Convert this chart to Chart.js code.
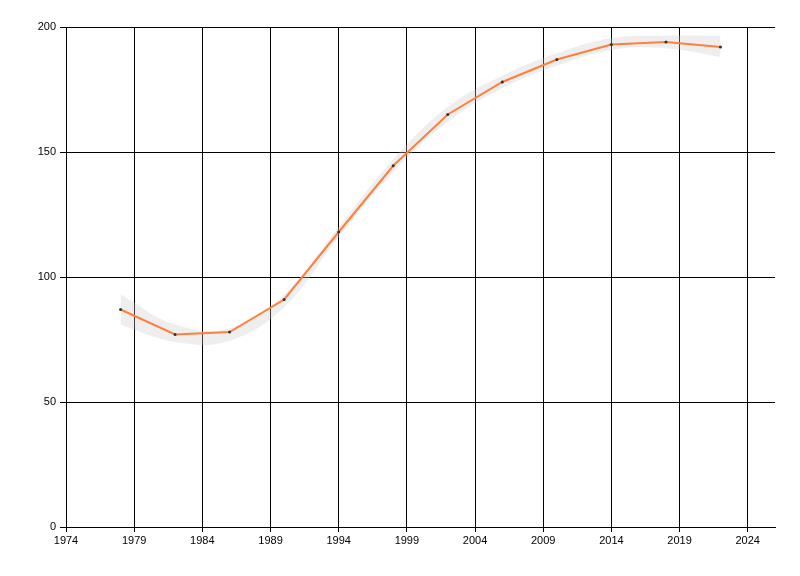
<!DOCTYPE html>
<html>
<head>
<meta charset="utf-8">
<script src="https://cdn.jsdelivr.net/npm/chart.js@4/dist/chart.umd.min.js"></script>
<style>
  html, body { margin: 0; padding: 0; background: #fff; }
  #wrap { width: 800px; height: 576px; }
</style>
</head>
<body>
<div id="wrap"><canvas id="chart" width="800" height="576"></canvas></div>
<script>
let years = [1978, 1982, 1986, 1990, 1994, 1998, 2002, 2006, 2010, 2014, 2018, 2022];
let values = [87, 77, 78, 91, 118, 144.5, 165, 178, 187, 193, 194, 192];
let bandUpper = [93, 81, 79.5, 93, 120, 147, 168, 180.5, 189.5, 195.5, 196.5, 196.5];
let bandLower = [81, 74, 74.5, 88, 116, 142, 162, 175.5, 184.5, 190.8, 191.5, 188];
let xTicks = [1974, 1979, 1984, 1989, 1994, 1999, 2004, 2009, 2014, 2019, 2024];
let yTicks = [0, 50, 100, 150, 200];

const toXY = (arr) => years.map((y, i) => ({ x: y, y: arr[i] }));

Chart.defaults.font.family = '"Liberation Sans", Arial, sans-serif';
Chart.defaults.font.size = 11;
Chart.defaults.color = '#000';

const ctx = document.getElementById('chart').getContext('2d');
new Chart(ctx, {
    type: 'line',
    data: {
        datasets: [
            {
                label: 'value',
                data: toXY(values),
                borderColor: 'rgb(255, 127, 60)',
                borderWidth: 2,
                pointRadius: 1.5,
                pointBackgroundColor: '#333',
                pointBorderWidth: 0,
                tension: 0,
                fill: false,
                order: 0
            },
            {
                label: 'upper',
                data: toXY(bandUpper),
                borderWidth: 0,
                pointRadius: 0,
                tension: 0.4,
                fill: '+1',
                backgroundColor: 'rgba(200, 200, 200, 0.3)',
                order: 1
            },
            {
                label: 'lower',
                data: toXY(bandLower),
                borderWidth: 0,
                pointRadius: 0,
                tension: 0.4,
                fill: false,
                order: 2
            }
        ]
    },
    options: {
        responsive: false,
        animation: false,
        layout: { padding: { top: 27, right: 25, left: 0, bottom: 0 } },
        plugins: {
            legend: { display: false },
            tooltip: { enabled: false }
        },
        scales: {
            x: {
                type: 'linear',
                min: 1974,
                max: 2026,
                afterBuildTicks: (scale) => { scale.ticks = xTicks.map(v => ({ value: v })); },
                afterFit: (scale) => { scale.height = 49; },
                ticks: {
                    padding: 2,
                    maxRotation: 0,
                    autoSkip: false,
                    callback: (v) => String(v)
                },
                grid: { color: '#000', lineWidth: 1, tickLength: 5, drawTicks: true },
                border: { color: '#000', width: 1 }
            },
            y: {
                min: 0,
                max: 200,
                afterBuildTicks: (scale) => { scale.ticks = yTicks.map(v => ({ value: v })); },
                afterFit: (scale) => { scale.width = 66; },
                ticks: { padding: 4 },
                grid: { color: '#000', lineWidth: 1, tickLength: 6, drawTicks: true },
                border: { color: '#000', width: 1 }
            }
        }
    }
});
</script>
</body>
</html>
